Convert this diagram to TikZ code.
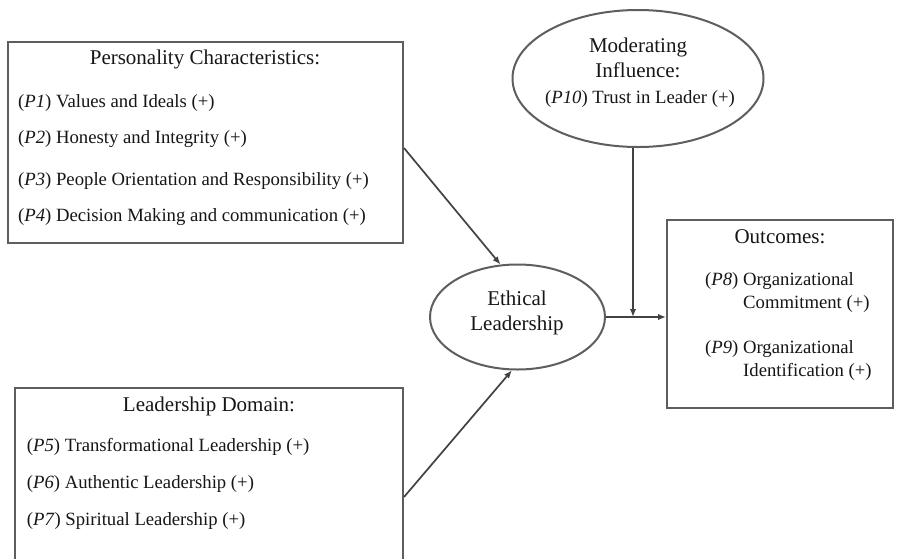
\documentclass[tikz,border=0pt]{standalone}
\usepackage{fontspec}
\setmainfont{Liberation Serif}
\usetikzlibrary{shapes.geometric,arrows.meta}
\definecolor{frame}{HTML}{5E5E5E}
\definecolor{wire}{HTML}{424242}
\definecolor{ink}{HTML}{161616}
\tikzset{
  panel/.style={draw=frame, line width=2pt, rectangle, inner sep=0pt},
  oval/.style={draw=frame, line width=2pt, ellipse, inner sep=0pt},
  head/.style={font=\fontsize{21}{25}\selectfont, text=ink, anchor=base, inner sep=0pt},
  item/.style={font=\fontsize{18.7}{22}\selectfont, text=ink, anchor=base west, inner sep=0pt},
  citem/.style={font=\fontsize{18.7}{22}\selectfont, text=ink, anchor=base, inner sep=0pt},
  link/.style={draw=wire, line width=1.7pt, -{Latex[length=8pt,width=6.5pt]}},
}
\begin{document}
\begin{tikzpicture}[x=1pt,y=-1pt]
\useasboundingbox (0,0) rectangle (898,558);
\clip (0,0) rectangle (898,558);
\fill[white] (0,0) rectangle (898,558);

% Personality characteristics panel
\node[panel, minimum width=395pt, minimum height=201pt] (pc) at (205.5,142.5) {};
\node[head] (pct) at (205,64) {Personality Characteristics:};
\node[item] (p1) at (18,107) {(\textit{P1}) Values and Ideals (+)};
\node[item] (p2) at (18,143) {(\textit{P2}) Honesty and Integrity (+)};
\node[item] (p3) at (18,185) {(\textit{P3}) People Orientation and Responsibility (+)};
\node[item] (p4) at (18,221.5) {(\textit{P4}) Decision Making and communication (+)};

% Leadership domain panel (runs past the lower edge)
\node[panel, minimum width=388pt, minimum height=182pt] (lb) at (209,479) {};
\node[head] (lbt) at (209,411.7) {Leadership Domain:};
\node[item] (p5) at (26.7,451.7) {(\textit{P5}) Transformational Leadership (+)};
\node[item] (p6) at (26.7,488.3) {(\textit{P6}) Authentic Leadership (+)};
\node[item] (p7) at (26.7,525) {(\textit{P7}) Spiritual Leadership (+)};

% Outcomes panel
\node[panel, minimum width=226pt, minimum height=188pt] (ob) at (780,314) {};
\node[head] (obt) at (780,243.3) {Outcomes:};
\node[item] (p8) at (705,285) {(\textit{P8}) Organizational};
\node[item] (p8b) at (743,308.3) {Commitment (+)};
\node[item] (p9) at (705,353.3) {(\textit{P9}) Organizational};
\node[item] (p9b) at (743,376.7) {Identification (+)};

% Moderating influence
\node[oval, minimum width=251pt, minimum height=137pt] (mi) at (638,78.5) {};
\node[head] (mit1) at (638,52) {Moderating};
\node[head] (mit2) at (638,77.5) {Influence:};
\node[citem] (p10) at (640,103) {(\textit{P10}) Trust in Leader (+)};

% Ethical leadership
\node[oval, minimum width=175pt, minimum height=105pt] (el) at (517.5,317) {};
\node[head] (elt1) at (517,305) {Ethical};
\node[head] (elt2) at (517,330) {Leadership};

% Connectors
\coordinate (j) at (633,317);
\draw[link] ([yshift=-5.5pt]pc.east) -- (el.108);
\draw[link] ([yshift=-18pt]lb.east) -- (el.264);
\draw[link] (el.east) -- (el.east -| ob.west);
\draw[link] (j |- mi.south) -- (j);
\end{tikzpicture}
\end{document}
